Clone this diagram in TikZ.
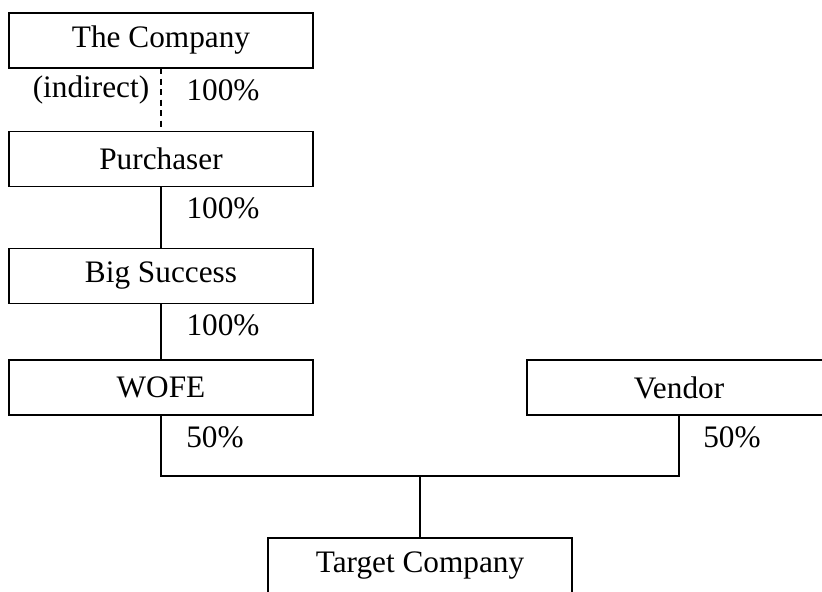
\documentclass[tikz,border=0pt]{standalone}
\usepackage{fontspec}
\setmainfont{Liberation Serif}
\begin{document}
\begin{tikzpicture}
        \tikzstyle{own_box}   = [shape = rectangle, draw = black, line width = 1.1pt,
                                 minimum width = 6.08cm, minimum height = 1.1cm,
                                 inner sep = 0pt, outer sep = 0pt]
        \tikzstyle{own_link}  = [line width = 1.1pt]
        \tikzstyle{own_share} = [inner sep = 0pt]

        \useasboundingbox (0.0, 0.0) rectangle (16.44, 11.82);
        \clip (0.0, 0.0) rectangle (16.44, 11.82);

        \fontsize{17.8}{21}\selectfont

        \node[own_box] at (3.22, 11.01) (company)  {The Company};
        \node[own_share] at (1.82, 10.02) (c_ind)  {(indirect)};
        \node[own_share] at (4.46, 10.02) (c_pct)  {100\%};

        \node[own_box] at (3.22,  8.64) (purch)    {Purchaser};
        \node[own_share] at (4.46,  7.66) (p_pct)  {100\%};

        \node[own_box] at (3.22,  6.30) (bigsucc)  {Big Success};
        \node[own_share] at (4.46,  5.32) (b_pct)  {100\%};

        \node[own_box] at (3.22,  4.07) (wofe)     {WOFE};
        \node[own_share] at (4.30,  3.08) (w_pct)  {50\%};

        \node[own_box] at (13.58, 4.07) (vendor)   {Vendor};
        \node[own_share] at (14.64, 3.08) (v_pct)  {50\%};

        \node[own_box] at (8.40,  0.51) (target)   {Target Company};

        \coordinate (fork) at (8.40, 2.30);

        \draw[own_link, dash pattern = on 3.5pt off 2.5pt]
          (company) -- (purch)
        ;

        \draw[own_link]
          (purch) -- (bigsucc)
          (bigsucc) -- (wofe)
          (wofe.south) |- (fork) -| (vendor.south)
          (fork) -- (target.north)
        ;
      \end{tikzpicture}
\end{document}
